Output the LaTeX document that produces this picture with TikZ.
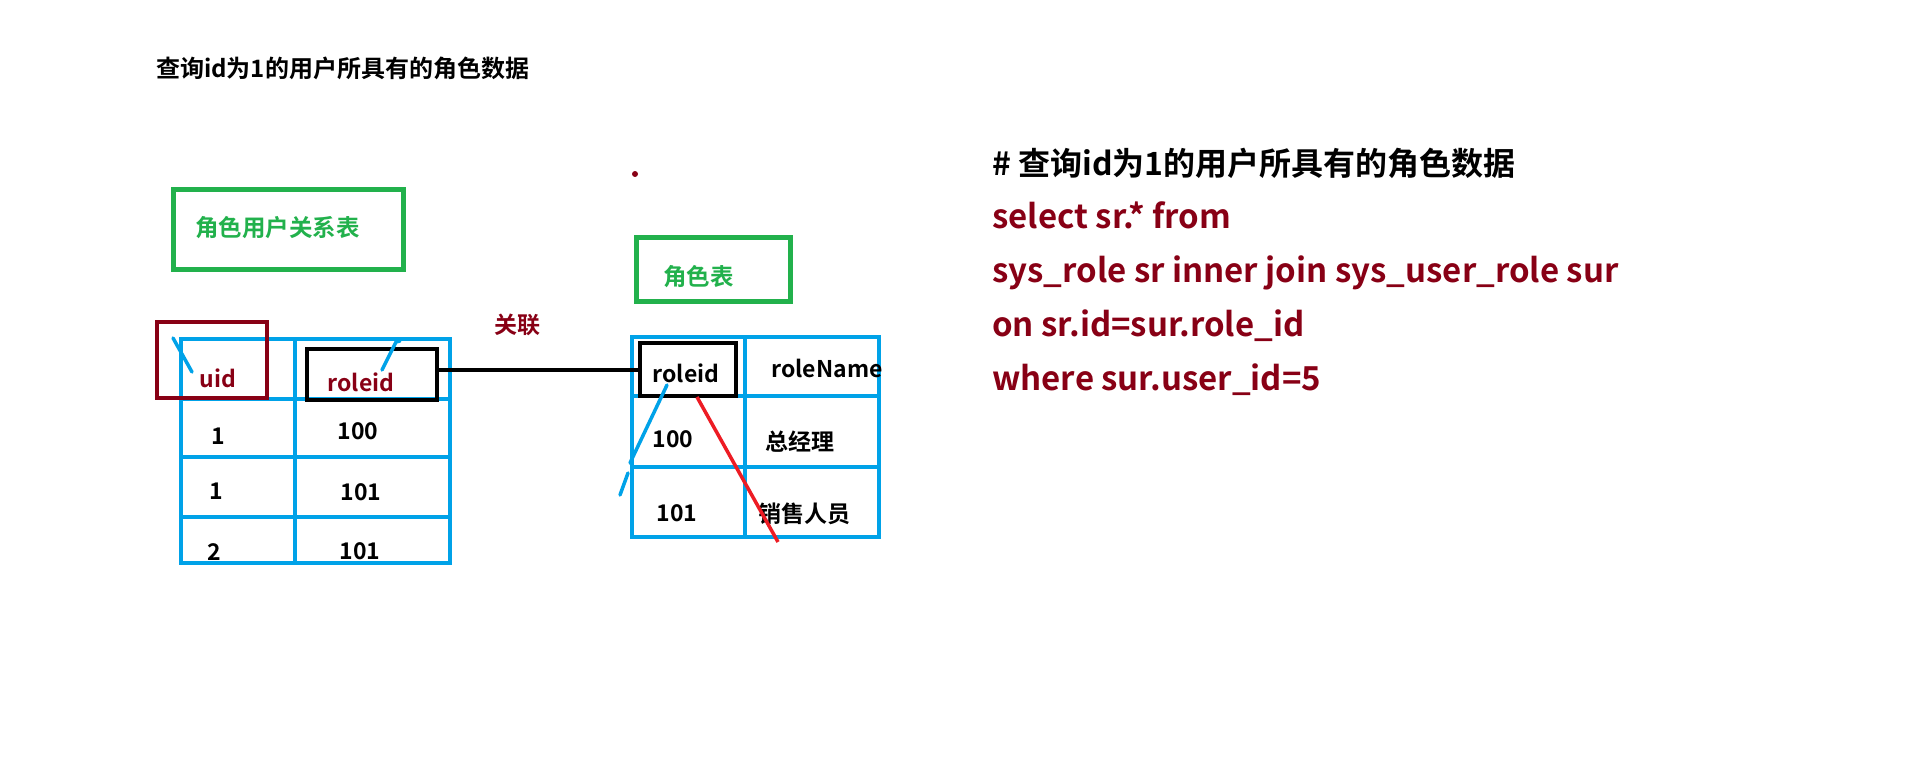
\documentclass[tikz,border=0pt]{standalone}
\usepackage{fontspec}
\setmainfont{Noto Sans CJK SC}[BoldFont={Noto Sans CJK SC Bold}]
\definecolor{pblue}{RGB}{0,162,232}
\definecolor{pgreen}{RGB}{34,177,76}
\definecolor{pdred}{RGB}{136,0,21}
\definecolor{pred}{RGB}{237,28,36}
\tikzset{
  txt/.style={inner sep=0pt, text height=20pt, text depth=0pt, font=\fontsize{23}{28}\selectfont\bfseries},
  ltxt/.style={txt, anchor=west},
  sql/.style={inner sep=0pt, text height=27.5pt, text depth=0pt, anchor=west, font=\fontsize{33}{38}\selectfont\bfseries, text=pdred},
  grid/.style={draw=pblue, line width=4.5pt},
  gbox/.style={draw=pgreen, line width=5pt, inner sep=0pt},
  kbox/.style={draw=black, line width=4pt, inner sep=0pt},
  stroke/.style={draw=pblue, line width=3.5pt, line cap=round},
}
\begin{document}
\begin{tikzpicture}[x=1pt,y=-1pt]
\useasboundingbox[fill=white] (0,0) rectangle (1907,771);

% title
\node[ltxt, font=\fontsize{24}{28}\selectfont\bfseries] (title) at (156,67) {查询id为1的用户所具有的角色数据};

% green labels
\node[gbox, minimum width=230pt, minimum height=80pt] (glbox) at (288,229) {};
\node[ltxt, text=pgreen, font=\fontsize{23.5}{28}\selectfont\bfseries] (gltxt) at (195,226) {角色用户关系表};
\node[gbox, minimum width=154pt, minimum height=64pt] (grbox) at (713,269) {};
\node[ltxt, text=pgreen, font=\fontsize{23.5}{28}\selectfont\bfseries] (grtxt) at (663,275) {角色表};

% left table grid
\draw[grid] (181,339) rectangle (450,563);
\draw[grid] (295,339) -- (295,563);
\draw[grid] (181,399) -- (450,399);
\draw[grid] (181,457) -- (450,457);
\draw[grid] (181,517) -- (450,517);

% right table grid
\draw[grid] (632,337) rectangle (879,537);
\draw[grid] (745,337) -- (745,537);
\draw[grid] (632,396) -- (879,396);
\draw[grid] (632,467) -- (879,467);

% highlight boxes
\node[draw=pdred, line width=4pt, inner sep=0pt, minimum width=110pt, minimum height=76pt] (uidbox) at (212,360) {};
\node[kbox, minimum width=130pt, minimum height=51pt] (lbox) at (372,374.5) {};
\node[kbox, minimum width=96pt, minimum height=53pt] (rbox) at (688,369.5) {};
\draw[black, line width=4pt] (lbox.east|-rbox.west) -- (rbox.west);

% left table texts
\node[txt, text=pdred] (luid) at (218,377) {uid};
\node[txt, text=pdred] (lrole) at (361,381) {roleid};
\node[txt] (l11) at (218,434) {1};
\node[txt] (l12) at (358,429) {100};
\node[txt] (l21) at (216,489) {1};
\node[txt] (l22) at (361,490) {101};
\node[txt] (l31) at (214,550) {2};
\node[txt] (l32) at (360,549) {101};

% right table texts
\node[txt] (rrole) at (686,372) {roleid};
\node[txt] (rname) at (827,367) {roleName};
\node[txt] (r11) at (673,437) {100};
\node[txt] (r12) at (800,440) {总经理};
\node[txt] (r21) at (677,511) {101};
\node[txt] (r22) at (804,512) {销售人员};

% relation label
\node[txt, text=pdred] (rel) at (517,323) {关联};

% dot
\fill[pdred] (635,174) circle (3pt);

% hand strokes
\draw[stroke] (173,338) -- (192,372);
\draw[stroke] (382,370) -- (396,342) -- (400,341);
\draw[stroke] (667,385) -- (630,463);
\draw[stroke] (628,473) -- (620,495);
\draw[draw=pred, line width=3.5pt] (697,397) -- (778,542);

% SQL text
\node[sql, text=black, font=\fontsize{32}{38}\selectfont\bfseries] (s1) at (992,162) {\# 查询id为1的用户所具有的角色数据};
\node[sql] (s2) at (992,215) {select sr.* from};
\node[sql] (s3) at (992,269) {sys\_role sr inner join sys\_user\_role sur};
\node[sql] (s4) at (992,323) {on sr.id=sur.role\_id};
\node[sql] (s5) at (992,377) {where sur.user\_id=5};
\end{tikzpicture}
\end{document}
